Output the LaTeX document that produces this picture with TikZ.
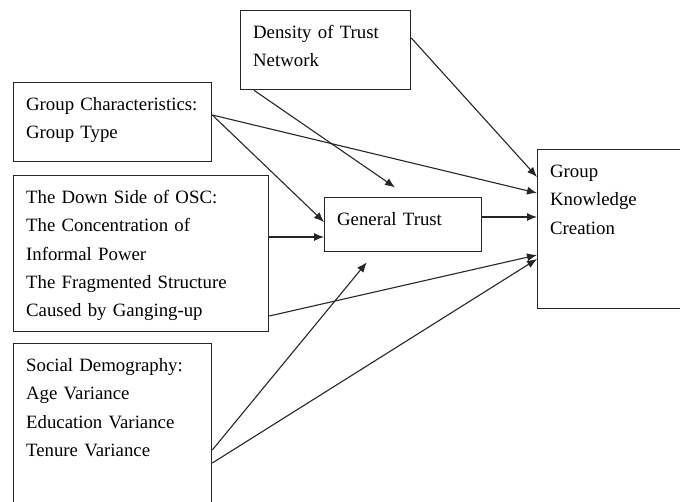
\documentclass[tikz,border=0pt]{standalone}
\usepackage{fontspec}
\setmainfont{Liberation Serif}
\usetikzlibrary{arrows.meta}
\begin{document}
\begin{tikzpicture}[x=1pt, y=-1pt,
    every node/.style={font=\fontsize{18.8}{28.3}\selectfont, align=left},
    box/.style={rectangle, draw=black!85, line width=1.3pt, anchor=north west,
                inner xsep=12.5pt, inner ysep=14pt, text height=14pt},
    arr/.style={-{Latex[length=10pt,width=8pt]}, line width=1.1pt, black!85}
]
\useasboundingbox (0,0) rectangle (680,501);
% boxes
\node[box, text width=145pt, text depth=37pt]  (dens) at (240,10)  {Density of Trust\\Network};
\node[box, text width=173pt, text depth=37pt]  (grp)  at (13,82)   {\mbox{Group Characteristics:}\\Group Type};
\node[box, text width=230pt, text depth=114pt] (osc)  at (13,175)  {The Down Side of OSC:\\The Concentration of\\Informal Power\\The Fragmented Structure\\Caused by Ganging-up};
\node[box, text width=173pt, text depth=138pt] (soc)  at (13,343)  {Social Demography:\\Age Variance\\Education Variance\\Tenure Variance};
\node[box, text width=132pt, text depth=12pt]  (gt)   at (324,197) {General Trust};
\node[box, text width=135pt, text depth=117pt] (gkc)  at (537,149) {Group\\Knowledge\\Creation};
% paths into general trust
\draw[arr, shorten >=17pt] ([xshift=14pt]dens.south west) -- ([xshift=85pt]gt.north west);
\draw[arr] ([yshift=-33pt]grp.north east) -- ([yshift=-25pt]gt.north west);
\draw[arr] ([yshift=-62pt]osc.north east) -- ([yshift=-40pt]gt.north west);
\draw[arr, shorten >=13pt] ([yshift=-107pt]soc.north east) -- ([xshift=51pt]gt.south west);
% paths into knowledge creation
\draw[arr] ([yshift=-28pt]dens.north east) -- ([yshift=-28pt]gkc.north west);
\draw[arr] ([yshift=-33pt]grp.north east) -- ([yshift=-44pt]gkc.north west);
\draw[arr] ([yshift=-20pt]gt.north east)  -- ([yshift=-68pt]gkc.north west);
\draw[arr] ([yshift=-141pt]osc.north east) -- ([yshift=-106pt]gkc.north west);
\draw[arr] ([yshift=-120pt]soc.north east) -- ([yshift=-110pt]gkc.north west);
\end{tikzpicture}
\end{document}
